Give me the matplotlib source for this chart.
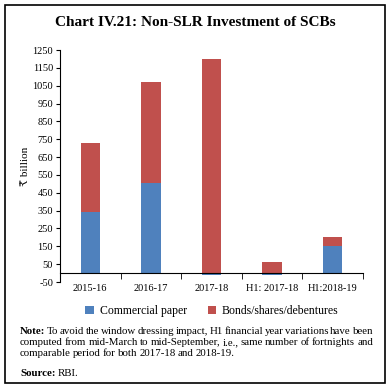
import matplotlib.pyplot as plt
from matplotlib.patches import Rectangle

# Données (₹ milliards)
categorias = ['2015-16', '2016-17', '2017-18', 'H1: 2017-18', 'H1:2018-19']
commercial_paper = [345, 505, -10, -10, 150]
bonds_shares = [385, 565, 1200, 60, 54]
yticks = list(range(-50, 1251, 100))

azul = '#4F81BD'
vermelho = '#C0504D'
fam = ['Liberation Serif', 'DejaVu Serif', 'DejaVu Sans']
plt.rcParams['font.family'] = fam

fig = plt.figure(figsize=(3.91, 3.88), dpi=100)
ax = fig.add_axes([60 / 391, (388 - 282) / 388, 303 / 391, (282 - 50) / 388])

x = list(range(len(categorias)))
# barras empilhadas: parte positiva do vermelho começa em max(azul, 0)
base_red = [max(v, 0) for v in commercial_paper]
ax.bar(x, commercial_paper, width=0.32, color=azul, label='Commercial paper')
ax.bar(x, bonds_shares, width=0.32, bottom=base_red, color=vermelho,
       label='Bonds/shares/debentures')

ax.set_xlim(-0.5, len(categorias) - 0.5)
ax.set_ylim(-50, 1250)
ax.set_yticks(yticks)
ax.set_yticklabels([str(v) for v in yticks])
ax.set_xticks(x)
ax.set_xticklabels(categorias)
ax.set_xticks([i - 0.5 for i in range(len(categorias) + 1)], minor=True)
ax.tick_params(axis='x', which='major', length=0, pad=8, labelsize=7.5)
ax.tick_params(axis='x', which='minor', length=4, direction='out')
ax.tick_params(axis='y', length=3, direction='out', pad=2, labelsize=7.5)
ax.spines['top'].set_visible(False)
ax.spines['right'].set_visible(False)
ax.spines['bottom'].set_position(('data', 0))
ax.set_ylabel('₹ billion', fontsize=8, labelpad=2)

fig.text(0.5, 1 - 23 / 388, 'Chart IV.21: Non-SLR Investment of SCBs',
         ha='center', va='center', fontsize=11, fontweight='bold')

fig.legend(loc='center', bbox_to_anchor=(212 / 391, 1 - 311 / 388), ncol=2,
           frameon=False, fontsize=8.5, handlelength=0.7, handleheight=0.7,
           columnspacing=1.8, handletextpad=0.5)

# Nota justificada
linhas = [
    'To avoid the window dressing impact, H1 financial year variations have been',
    'computed from mid-March to mid-September, i.e., same number of fortnights and',
    'comparable period for both 2017-18 and 2018-19.',
]
x0, x1 = 20, 373
fs = 7.8
fig.canvas.draw()
r = fig.canvas.get_renderer()


def largura(t):
    return t.get_window_extent(renderer=r).width


for i, linha in enumerate(linhas):
    y = 1 - (331 + i * 11.3) / 388
    palavras = linha.split(' ')
    if i == 0:
        palavras = ['Note:'] + palavras
    objs = []
    for j, p in enumerate(palavras):
        peso = 'bold' if (i == 0 and j == 0) else 'normal'
        objs.append(fig.text(0, y, p, fontsize=fs, va='center', fontweight=peso))
    ws = [largura(o) for o in objs]
    if i < len(linhas) - 1:
        gap = (x1 - x0 - sum(ws)) / (len(objs) - 1)
    else:
        gap = 2.0
    pos = x0
    for o, w in zip(objs, ws):
        o.set_x(pos / 391)
        pos += w + gap

src = fig.text(x0 / 391, 1 - 374 / 388, 'Source:', fontsize=fs, va='center',
               fontweight='bold')
fig.text((x0 + largura(src) + 2.5) / 391, 1 - 374 / 388, 'RBI.', fontsize=fs,
         va='center')

fig.patches.append(Rectangle((5 / 391, 5 / 388), 380 / 391, 378 / 388,
                             transform=fig.transFigure, fill=False,
                             edgecolor='black', linewidth=1.2))

fig.savefig('out.png', dpi=100)
